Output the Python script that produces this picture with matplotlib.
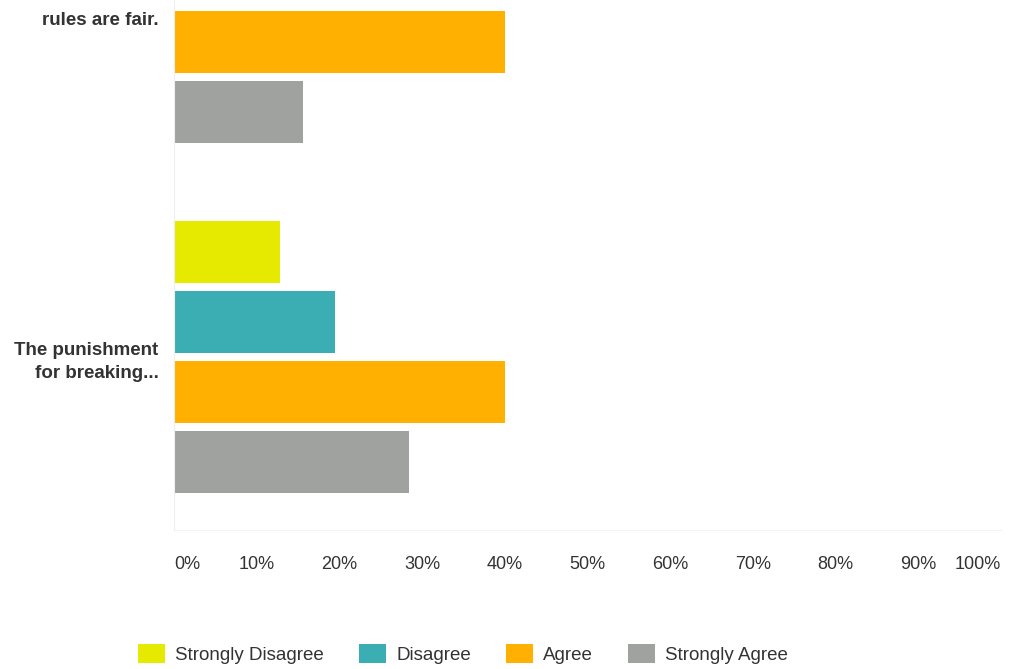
import numpy as np
import matplotlib
matplotlib.use("Agg")
import matplotlib.pyplot as plt
import matplotlib.transforms as mtransforms
from matplotlib.patches import Patch

# --- survey responses, percent of respondents ---
questions = ["rules are fair.", "The punishment\nfor breaking..."]
answers = ["Strongly Disagree", "Disagree", "Agree", "Strongly Agree"]
# first question's top two bars are cut off in the source image
strongly_disagree = [np.nan, 12.8]
disagree = [np.nan, 19.5]
agree = [40.0, 40.0]
strongly_agree = [15.6, 28.4]
ticks = [0, 10, 20, 30, 40, 50, 60, 70, 80, 90, 100]
tick_labels = ["0%", "10%", "20%", "30%", "40%", "50%", "60%", "70%", "80%", "90%", "100%"]

colors = ["#e5ea00", "#3aaeb2", "#ffb000", "#a0a29f"]

plt.rcParams['font.family'] = ['Liberation Sans', 'DejaVu Sans']

fig = plt.figure(figsize=(10.15, 6.69), dpi=100)
ax = fig.add_axes([174 / 1015, 1 - 530 / 669, 827 / 1015, 530 / 669])

series = [strongly_disagree, disagree, agree, strongly_agree]
offsets = [-0.3, -0.1, 0.1, 0.3]
group_pos = np.arange(len(questions))

for vals, off, col in zip(series, offsets, colors):
    vals = np.asarray(vals, dtype=float)
    ok = ~np.isnan(vals)
    ax.barh(group_pos[ok] + off, vals[ok], height=0.177, color=col, linewidth=0)

ax.set_xlim(0, 100)
ax.set_ylim(1.494, -0.02)

ax.set_xticks(ticks)
ax.set_xticklabels(tick_labels, fontsize=13, color="#333333")
ax.tick_params(axis='x', length=0, pad=19)
xl = ax.get_xticklabels()
xl[0].set_ha('left')
xl[-1].set_ha('right')

ax.set_yticks(group_pos)
ax.set_yticklabels(questions, fontsize=13.5, fontweight='bold', color="#333333",
                   linespacing=1.45)
yl = ax.get_yticklabels()
for t in yl:
    t.set_multialignment('right')
ax.tick_params(axis='y', length=0, pad=11)
# the first question's label is only its last line (rest is cropped off above)
shift = mtransforms.ScaledTranslation(0, -11.5 / 100, fig.dpi_scale_trans)
yl[0].set_transform(yl[0].get_transform() + shift)

for s in ['top', 'right']:
    ax.spines[s].set_visible(False)
ax.spines['left'].set_color('#eeeeee')
ax.spines['bottom'].set_color('#f3f3f3')

handles = [Patch(facecolor=c, edgecolor='none', label=a) for c, a in zip(colors, answers)]
fig.legend(handles=handles, loc='center', bbox_to_anchor=(463 / 1015, 1 - 654 / 669),
           ncol=4, frameon=False, fontsize=13.5, handlelength=1.44, handleheight=1.15,
           handletextpad=0.53, columnspacing=1.87, labelcolor="#333333")

fig.savefig("out.png", dpi=100)
